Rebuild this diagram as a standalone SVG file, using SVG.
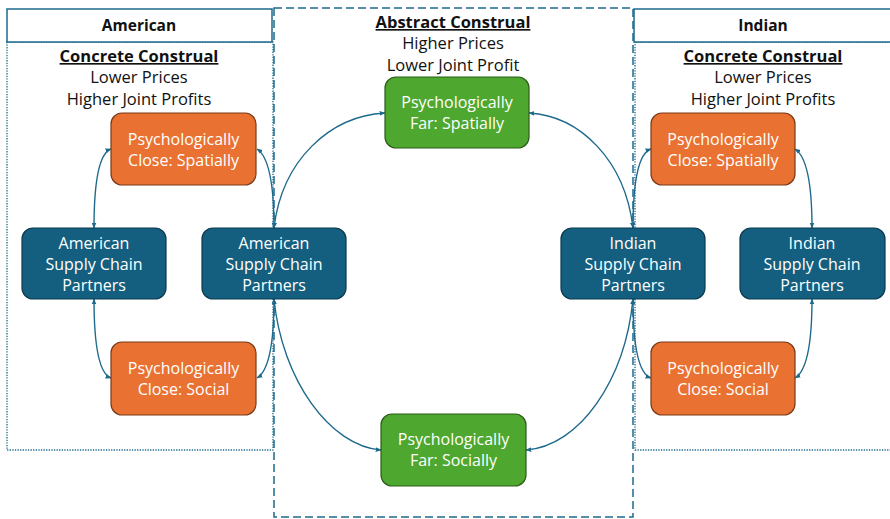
<svg xmlns="http://www.w3.org/2000/svg" width="890" height="519" viewBox="0 0 890 519">
  <style>
    .hdr { fill: #ffffff; stroke: #1d6a8c; stroke-width: 1.5; }
    .dot { fill: none; stroke: #1d6a8c; stroke-width: 1.3; stroke-dasharray: 1.3 1.3; }
    .dash { fill: none; stroke: #1d6a8c; stroke-width: 1.5; stroke-dasharray: 8 4; }
    .title { font-family: "Open Sans", "Liberation Sans", sans-serif; font-size: 15.5px; font-weight: bold; fill: #111; text-anchor: middle; }
    .head { font-size: 16.5px; }
    .sub { font-family: "Open Sans", "Liberation Sans", sans-serif; font-size: 16.5px; fill: #111; text-anchor: middle; }
    .u { text-decoration: underline; }
    .lbl { font-family: "Open Sans", "Liberation Sans", sans-serif; font-size: 16px; fill: #ffffff; text-anchor: middle; }
    .blue { fill: #145f80; stroke: #0b3a4f; stroke-width: 1.2; }
    .orange { fill: #e97132; stroke: #7a3a18; stroke-width: 1.2; }
    .green { fill: #4ea72e; stroke: #2b5c19; stroke-width: 1.2; }
    .link { fill: none; stroke: #1d6a8c; stroke-width: 1.4; marker-start: url(#ah); marker-end: url(#ah); }
  </style>
  <defs>
    <marker id="ah" viewBox="0 0 10 10" refX="9" refY="5" markerWidth="6" markerHeight="6" orient="auto-start-reverse" markerUnits="userSpaceOnUse">
      <path d="M0,1 L10,5 L0,9 z" fill="#1d6a8c"/>
    </marker>
  </defs>

  <!-- panels -->
  <g id="panel-american">
    <rect class="dot" x="7" y="42" width="266" height="408"/>
    <rect class="hdr" x="7" y="9" width="265" height="33"/>
    <text class="title" x="139" y="31">American</text>
    <text class="title head u" x="139" y="62">Concrete Construal</text>
    <text class="sub" x="139" y="83">Lower Prices</text>
    <text class="sub" x="139" y="105">Higher Joint Profits</text>
  </g>
  <g id="panel-abstract">
    <rect class="dash" x="274" y="8" width="359" height="509"/>
    <text class="title head u" x="453" y="28">Abstract Construal</text>
    <text class="sub" x="453" y="49">Higher Prices</text>
    <text class="sub" x="453" y="71">Lower Joint Profit</text>
  </g>
  <g id="panel-indian">
    <rect class="dot" x="635" y="42" width="262" height="408"/>
    <rect class="hdr" x="634" y="9" width="262" height="33"/>
    <text class="title" x="763" y="31">Indian</text>
    <text class="title head u" x="763" y="62">Concrete Construal</text>
    <text class="sub" x="763" y="83">Lower Prices</text>
    <text class="sub" x="763" y="105">Higher Joint Profits</text>
  </g>

  <!-- connectors -->
  <g id="connectors">
    <path class="link" d="M94,228 Q94,155 111,149"/>
    <path class="link" d="M274,228 Q274,160 257,149"/>
    <path class="link" d="M274,228 C282,160 330,116 385,113"/>
    <path class="link" d="M94,299 Q94,372 111,378"/>
    <path class="link" d="M274,299 Q274,368 257,378"/>
    <path class="link" d="M274,299 C282,380 330,446 381,450"/>
    <path class="link" d="M633,228 C625,160 580,116 529,113"/>
    <path class="link" d="M633,228 Q633,155 651,149"/>
    <path class="link" d="M812,228 Q812,160 795,149"/>
    <path class="link" d="M633,299 C625,380 580,446 526,450"/>
    <path class="link" d="M633,299 Q633,372 651,378"/>
    <path class="link" d="M812,299 Q812,368 795,378"/>
  </g>

  <!-- nodes -->
  <g id="am-close-spatial">
    <rect class="orange" x="111" y="113" width="145" height="72" rx="11"/>
    <text class="lbl" x="183.5" y="145">Psychologically</text>
    <text class="lbl" x="183.5" y="166">Close: Spatially</text>
  </g>
  <g id="am-close-social">
    <rect class="orange" x="111" y="342" width="145" height="73" rx="11"/>
    <text class="lbl" x="183.5" y="374">Psychologically</text>
    <text class="lbl" x="183.5" y="395">Close: Social</text>
  </g>
  <g id="am-scp-left">
    <rect class="blue" x="22" y="228" width="144" height="71" rx="11"/>
    <text class="lbl" x="94" y="249">American</text>
    <text class="lbl" x="94" y="270">Supply Chain</text>
    <text class="lbl" x="94" y="291">Partners</text>
  </g>
  <g id="am-scp-mid">
    <rect class="blue" x="202" y="228" width="144" height="71" rx="11"/>
    <text class="lbl" x="274" y="249">American</text>
    <text class="lbl" x="274" y="270">Supply Chain</text>
    <text class="lbl" x="274" y="291">Partners</text>
  </g>
  <g id="far-spatial">
    <rect class="green" x="385" y="77" width="144" height="71" rx="11"/>
    <text class="lbl" x="457" y="108">Psychologically</text>
    <text class="lbl" x="457" y="129">Far: Spatially</text>
  </g>
  <g id="far-social">
    <rect class="green" x="381" y="414" width="145" height="72" rx="11"/>
    <text class="lbl" x="453.5" y="445">Psychologically</text>
    <text class="lbl" x="453.5" y="466">Far: Socially</text>
  </g>
  <g id="in-scp-mid">
    <rect class="blue" x="561" y="228" width="144" height="71" rx="11"/>
    <text class="lbl" x="633" y="249">Indian</text>
    <text class="lbl" x="633" y="270">Supply Chain</text>
    <text class="lbl" x="633" y="291">Partners</text>
  </g>
  <g id="in-scp-right">
    <rect class="blue" x="740" y="228" width="145" height="71" rx="11"/>
    <text class="lbl" x="812" y="249">Indian</text>
    <text class="lbl" x="812" y="270">Supply Chain</text>
    <text class="lbl" x="812" y="291">Partners</text>
  </g>
  <g id="in-close-spatial">
    <rect class="orange" x="651" y="113" width="144" height="72" rx="11"/>
    <text class="lbl" x="723" y="145">Psychologically</text>
    <text class="lbl" x="723" y="166">Close: Spatially</text>
  </g>
  <g id="in-close-social">
    <rect class="orange" x="651" y="342" width="144" height="73" rx="11"/>
    <text class="lbl" x="723" y="374">Psychologically</text>
    <text class="lbl" x="723" y="395">Close: Social</text>
  </g>
</svg>
